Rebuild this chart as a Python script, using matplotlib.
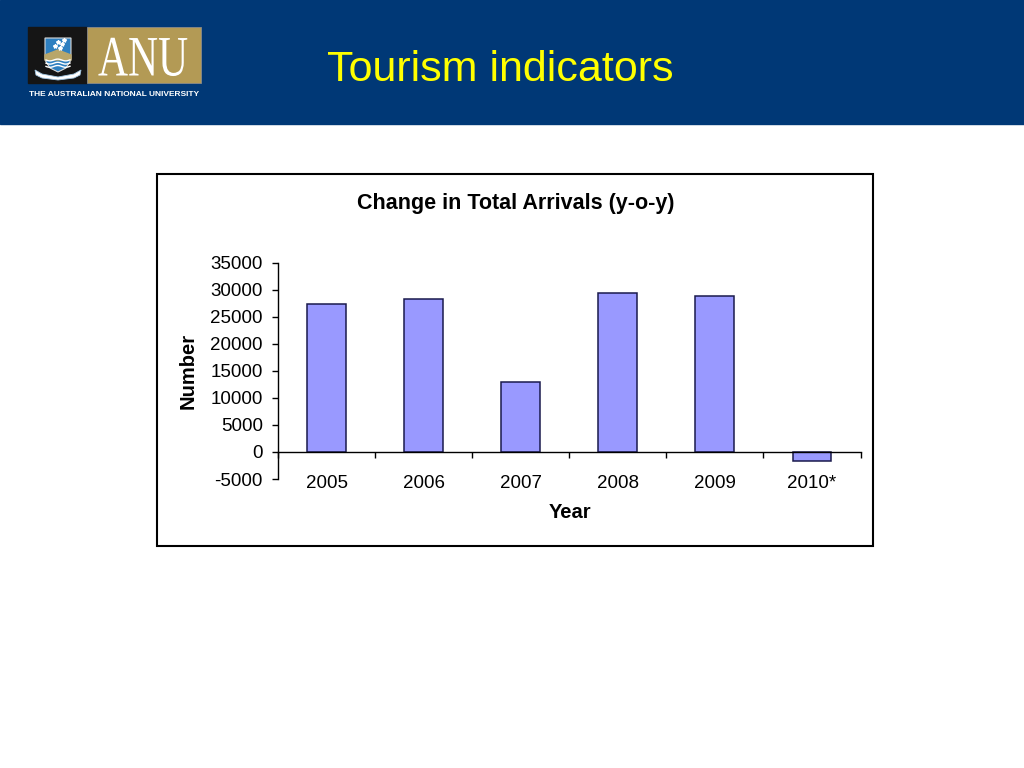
import numpy as np
import matplotlib
matplotlib.use("Agg")
import matplotlib.pyplot as plt
from matplotlib.patches import Rectangle, Polygon, PathPatch
from matplotlib.textpath import TextPath
from matplotlib.font_manager import FontProperties
from matplotlib.transforms import Affine2D

# data
years = ["2005", "2006", "2007", "2008", "2009", "2010*"]
arrivals_change = [27300, 28250, 13000, 29450, 28900, -1700]
y_ticks = [-5000, 0, 5000, 10000, 15000, 20000, 25000, 30000, 35000]

HEADER_BLUE = "#003876"
BAR_FILL = "#9999ff"
BAR_EDGE = "#1a1a4d"

plt.rcParams['font.family'] = ['Liberation Sans', 'DejaVu Sans']

fig = plt.figure(figsize=(10.24, 7.68), dpi=100)

# overlay in pixel coordinates for the slide decoration
deco = fig.add_axes([0, 0, 1, 1])
deco.set_xlim(0, 1024)
deco.set_ylim(768, 0)
deco.axis("off")
deco.add_patch(Rectangle((0, 0), 1024, 124, color=HEADER_BLUE, zorder=0))

# logo: black crest block and gold ANU block
deco.add_patch(Rectangle((28, 27), 59, 56, color="#151515", zorder=1))
deco.add_patch(Rectangle((87, 27), 114, 56, facecolor="#b39a55",
                         edgecolor="#8a8a8a", lw=0.6, zorder=1))
shield = Polygon([(45, 38), (71, 38), (71, 60), (66, 68), (58, 72),
                  (50, 68), (45, 60)], closed=True, facecolor="#2e7fc0",
                 edgecolor="#d9d9d9", lw=0.8, zorder=2)
deco.add_patch(shield)
deco.add_patch(Polygon([(45, 55), (58, 50), (71, 55), (71, 60), (45, 60)],
                       closed=True, color="#b8a66a", zorder=3))
for k in range(3):
    yy = 60 + k * 3.2
    xs = np.linspace(46, 70, 30)
    deco.plot(xs, yy + 0.9 * np.sin((xs - 46) / 2.5), color="white",
              lw=1.0, zorder=4)
for sx, sy in [(58, 42), (62, 44), (55, 46), (60, 48), (64, 40)]:
    deco.plot(sx, sy, marker="*", color="white", ms=3, zorder=4)
deco.add_patch(Polygon([(35, 70), (42, 74), (58, 77), (74, 74), (81, 70),
                        (80, 75), (74, 78), (58, 80), (42, 78), (36, 75)],
                       closed=True, facecolor="white", edgecolor="#9fc4e0",
                       lw=0.6, zorder=5))
fp = FontProperties(family="Liberation Serif")
tp = TextPath((0, 0), "ANU", size=52, prop=fp)
tr = Affine2D().scale(0.8, -1.1).translate(98, 75.5)
deco.add_patch(PathPatch(tr.transform_path(tp), facecolor="white",
                         edgecolor="none", zorder=3))
deco.text(114, 95, "THE AUSTRALIAN NATIONAL UNIVERSITY", color="white",
          fontsize=6.0, fontweight="bold", ha="center", va="center",
          family=["Liberation Sans Narrow", "Liberation Sans"])
deco.text(500, 70, "Tourism indicators", color="#ffff00", fontsize=31,
          ha="center", va="center")

# chart border
deco.add_patch(Rectangle((157, 174), 716, 372, facecolor="none",
                         edgecolor="black", lw=1.5, zorder=1))
deco.text(516, 203, "Change in Total Arrivals (y-o-y)", fontsize=15.5,
          fontweight="bold", ha="center", va="center")

# bar chart
ax = fig.add_axes([278 / 1024, 1 - 479 / 768, (860.5 - 278) / 1024,
                   (479 - 262.7) / 768])
ax.patch.set_alpha(0)
x = np.arange(len(years)) + 0.5
ax.bar(x, arrivals_change, width=0.4, color=BAR_FILL, edgecolor=BAR_EDGE,
       linewidth=1.1, zorder=2)
ax.set_xlim(0, len(years))
ax.set_ylim(-5000, 35000)
ax.set_yticks(y_ticks)
ax.set_yticklabels([str(v) for v in y_ticks])
ax.set_xticks(np.arange(len(years) + 1))
ax.set_xticklabels([])
ax.set_xticks(x, minor=True)
ax.set_xticklabels(years, minor=True)
for s in ["top", "right"]:
    ax.spines[s].set_visible(False)
ax.spines["bottom"].set_position(("data", 0))
ax.spines["bottom"].set_zorder(3)
ax.spines["left"].set_linewidth(1.0)
ax.spines["bottom"].set_linewidth(1.0)
ax.tick_params(axis="y", direction="out", length=4, width=1.0, pad=7,
               labelsize=13.5)
ax.tick_params(axis="x", which="major", direction="out", length=4.5,
               width=1.0)
ax.tick_params(axis="x", which="minor", length=0, pad=16.5, labelsize=13.5)

deco.text(188, 371, "Number", fontsize=14.5, fontweight="bold",
          rotation=90, ha="center", va="center")
deco.text(570, 512, "Year", fontsize=14.5, fontweight="bold", ha="center",
          va="center")

fig.savefig("out.png", dpi=100)
